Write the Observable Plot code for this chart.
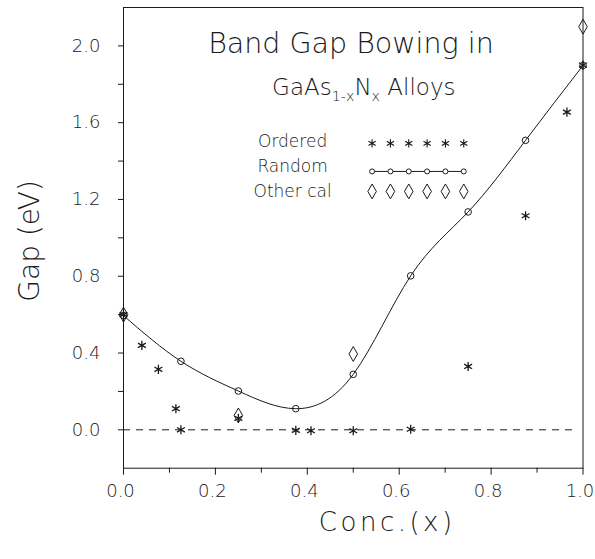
<!DOCTYPE html>
<html>
<head>
<meta charset="utf-8">
<script src="https://cdn.jsdelivr.net/npm/d3@7"></script>
<script src="https://cdn.jsdelivr.net/npm/@observablehq/plot@0.6"></script>
<style>
  html, body { margin: 0; padding: 0; background: #fff; }
  #chart { width: 595px; height: 559px; }
</style>
</head>
<body>
<div id="chart"></div>
<script>
// ---- data ----
const randomX = [0, 0.125, 0.25, 0.375, 0.5, 0.625, 0.75, 0.875, 1.0];
const randomY = [0.595, 0.357, 0.202, 0.110, 0.289, 0.802, 1.135, 1.508, 1.898];

const orderedX = [0, 0.04, 0.076, 0.114, 0.125, 0.25, 0.375, 0.408, 0.5, 0.625, 0.75, 0.875, 0.965, 1.0];
const orderedY = [0.60, 0.44, 0.315, 0.11, 0.0, 0.06, -0.003, -0.005, -0.005, 0.003, 0.33, 1.115, 1.655, 1.90];

const otherX = [0, 0.25, 0.5, 1.0];
const otherY = [0.60, 0.075, 0.395, 2.10];

const xMajor = [0, 0.2, 0.4, 0.6, 0.8, 1.0];
const xMinor = [0.1, 0.3, 0.5, 0.7, 0.9];
const yMajor = [0, 0.4, 0.8, 1.2, 1.6, 2.0];
const yMinor = [0.2, 0.6, 1.0, 1.4, 1.8];

const legendLabels = ["Ordered", "Random", "Other cal"];
const titleText = "Band Gap Bowing in";
const subtitleText = "GaAs1-xNx Alloys";
const xLabel = "Conc.(x)";
const yLabel = "Gap (eV)";

// ---- layout (data units) ----
const legendTextX = 0.368;
const legendTextY = [1.503, 1.37, 1.242];
const legendSymY = [1.492, 1.346, 1.242];
const legendSymX0 = 0.541, legendSymStep = 0.0399, legendSymN = 6;
const legendSymX = d3.range(legendSymN).map(i => legendSymX0 + i * legendSymStep);

const randomData = randomX.map((x, i) => ({x, y: randomY[i]}));
const orderedData = orderedX.map((x, i) => ({x, y: orderedY[i]}));
const otherData = otherX.map((x, i) => ({x, y: otherY[i]}));

const ink = "#1a1a1a";
const font = "'DejaVu Sans', 'Noto Sans', sans-serif";

const plot = Plot.plot({
  width: 595,
  height: 559,
  marginLeft: 123,
  marginRight: 12.5,
  marginTop: 7,
  marginBottom: 91.3,
  x: {domain: [0, 1], axis: null},
  y: {domain: [-0.2, 2.2], axis: null},
  style: {fontFamily: font, fontSize: "18px", color: ink, background: "#fff", fontWeight: 300},
  marks: [
    Plot.frame({stroke: ink, strokeWidth: 1}),
    Plot.axisY({ticks: yMajor, tickSize: 5, tickPadding: 18, tickFormat: d3.format(".1f"), label: null, fontSize: 18}),
    Plot.axisY({ticks: yMinor, tickSize: 5, tickFormat: () => "", label: null}),
    Plot.axisX({ticks: xMajor, tickSize: 7, tickFormat: () => "", label: null}),
    Plot.axisX({ticks: xMajor, tickSize: 0, tickPadding: 16, tickFormat: d3.format(".1f"), label: null, fontSize: 18, dx: -3}),
    Plot.axisX({ticks: xMinor, tickSize: 5, tickFormat: () => "", label: null}),
    Plot.ruleY([0], {x1: 0, x2: 0.985, stroke: ink, strokeWidth: 1, strokeDasharray: "7,6"}),
    Plot.line(randomData, {x: "x", y: "y", curve: "natural", stroke: ink, strokeWidth: 1}),
    Plot.dot(randomData, {x: "x", y: "y", r: 3.3, stroke: ink, strokeWidth: 1, fill: "none"}),
    Plot.dot(orderedData, {x: "x", y: "y", symbol: "asterisk", r: 4.3, stroke: ink, strokeWidth: 1.3}),
    Plot.dot(otherData, {x: "x", y: "y", symbol: "diamond", r: 4.5, stroke: ink, strokeWidth: 1, fill: "none"}),
    // legend
    Plot.text(legendLabels, {x: legendTextX, y: (d, i) => legendTextY[i], text: d => d, fontSize: 17, textAnchor: "middle", fill: ink}),
    Plot.dot(legendSymX, {x: d => d, y: legendSymY[0], symbol: "asterisk", r: 3.9, stroke: ink, strokeWidth: 1.1}),
    Plot.line(legendSymX, {x: d => d, y: legendSymY[1], stroke: ink, strokeWidth: 1}),
    Plot.dot(legendSymX, {x: d => d, y: legendSymY[1], r: 2.5, stroke: ink, strokeWidth: 1, fill: "#fff"}),
    Plot.dot(legendSymX, {x: d => d, y: legendSymY[2], symbol: "diamond", r: 4.5, stroke: ink, strokeWidth: 1, fill: "none"}),
    // titles
    Plot.text([titleText], {x: 0.495, y: 2.008, text: d => d, fontSize: 28.5, textAnchor: "middle", fill: ink}),
    Plot.text([subtitleText], {x: 0.523, y: 1.781, text: d => d, fontSize: 23, textAnchor: "middle", fill: ink}),
    // axis labels
    Plot.text([xLabel], {frameAnchor: "bottom", text: d => d, dx: 34, dy: 63, fontSize: 26, textAnchor: "middle", fill: ink}),
    Plot.text([yLabel], {frameAnchor: "left", text: d => d, dx: -93, dy: 3, rotate: -90, fontSize: 28, textAnchor: "middle", fill: ink})
  ]
});

document.getElementById("chart").appendChild(plot);

// subscripts for GaAs1-xNx
d3.select(plot).selectAll("text").each(function () {
  if (this.textContent === subtitleText) {
    const t = d3.select(this);
    t.text(null);
    t.append("tspan").text("GaAs");
    t.append("tspan").attr("font-size", "62%").attr("dy", "6").text("1-x");
    t.append("tspan").attr("dy", "-6").text("N");
    t.append("tspan").attr("font-size", "62%").attr("dy", "6").text("x");
    t.append("tspan").attr("dy", "-6").text(" Alloys");
  }
  if (this.textContent === xLabel) {
    d3.select(this).attr("letter-spacing", "3.5");
  }
});
</script>
</body>
</html>
